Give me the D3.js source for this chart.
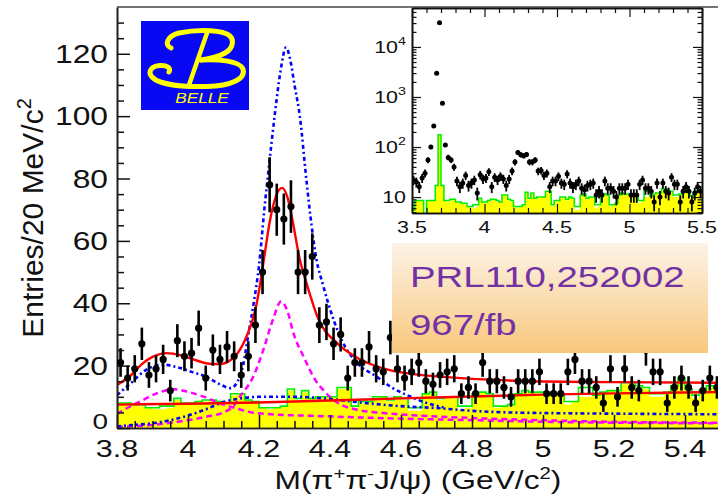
<!DOCTYPE html>
<html><head><meta charset="utf-8">
<script src="https://cdn.jsdelivr.net/npm/d3@7"></script>
<style>
body{margin:0;background:#fff;}
svg{display:block;}
text{font-family:"Liberation Sans",Arial,Helvetica,sans-serif;}
</style>
</head><body>
<svg id="c" width="718" height="500"></svg>
<script>
// ---------------- DATA ----------------
const mass = [3.81,3.83,3.85,3.87,3.89,3.91,3.93,3.95,3.97,3.99,4.01,4.03,4.05,4.07,4.09,4.11,4.13,4.15,4.17,4.19,
  4.21,4.23,4.25,4.27,4.29,4.31,4.33,4.35,4.37,4.39,4.41,4.43,4.45,4.47,4.49,4.51,4.53,4.55,4.57,4.59,
  4.61,4.63,4.65,4.67,4.69,4.71,4.73,4.75,4.77,4.79,4.81,4.83,4.85,4.87,4.89,4.91,4.93,4.95,4.97,4.99,
  5.01,5.03,5.05,5.07,5.09,5.11,5.13,5.15,5.17,5.19,5.21,5.23,5.25,5.27,5.29,5.31,5.33,5.35,5.37,5.39,
  5.41,5.43,5.45,5.47,5.49];
const counts = [21,16,19,27,17,19,22,12,28,23, 24,32,16,25,22,26,23,17,23,33,
  50,78,70,67,71,50,50,55,33,34, 27,30,16,21,21,26,19,18,29,19,
  16,18,21,15,14,17,18,19,11,13, 11,21,15,15,13,10,15,15,15,18,
  11,11,11,18,22,15,15,13,8,19, 10,19,13,12,25,18,18,8,13,16,
  13,8,12,16,13];
const greenHist = [8,8,7.5,7.5,6.5,6.5,7,7,9.5,8, 8,8.5,9,9,8.5,8,11,11,9,8.5,
  6.5,6.5,6.5,7,12.5,9.5,12,9.5,10,10, 10,13,13,7,8.5,8.5,10,10,9,10,
  9.5,6.5,6.5,11,11.5,9.5,10,10,7,7, 11,11.5,11,7,7,7.5,11,12,11.5,11.5,
  11.5,11,11,8.5,8.5,13,13,10.5,11.5,12, 12,14.5,14.5,13.5,13,11,11,11.5,13.5,16,
  12.5,10.5,12,13.5,13];
const yellowHist = [8,7.5,7.5,7,6.5,6,6,6.5,9,8, 7.5,8.5,8.5,9,8,8,10.5,11,9,8,
  6.5,6,6.5,7,12,9,11.5,9.5,9.5,10, 10,12.5,12.5,6.5,8,8.5,9.5,10,8.5,10,
  9,5.5,5.5,11,11,9,10,9.5,6,6.5, 10.5,11.5,10.5,6.5,7,7,11,11.5,11.5,11,
  11,11,10.5,7.5,8.5,10,10,10.5,11,12, 12,14,14.5,13,12.5,10,10,11,13,15.5,
  12,9.5,12,13,13];

// fit curves [mass, entries]
const redTotal = [[3.80,13.8],[3.84,17],[3.87,20.5],[3.90,22.8],[3.94,24],[3.98,23.3],[4.02,21.8],[4.06,20.6],
  [4.09,20.5],[4.12,21.8],[4.14,24],[4.165,29.4],[4.19,38],[4.20,44],[4.215,55],[4.23,66],[4.25,75],[4.265,77],
  [4.28,74],[4.292,68],[4.315,54],[4.335,46],[4.367,35],[4.42,27.2],[4.48,22.3],[4.56,18.8],[4.64,17.2],
  [4.72,16.4],[4.85,15.5],[5.0,14.9],[5.2,14.7],[5.5,14.5]];
const redBkg = [[3.80,7.5],[4.0,7.8],[4.2,8.2],[4.4,8.8],[4.6,9.5],[4.8,10.1],[5.0,10.7],[5.2,11.1],[5.4,11.4],[5.5,11.5]];
const blueTotal = [[3.80,10.5],[3.84,14.5],[3.88,18.5],[3.93,20.3],[3.97,19.5],[4.01,18],[4.05,16.5],[4.09,14],
  [4.12,12.8],[4.14,15],[4.155,20],[4.17,30],[4.185,40],[4.20,52],[4.215,70],[4.23,86],[4.245,101],[4.26,114],
  [4.276,122],[4.29,117],[4.30,110],[4.315,100],[4.334,79],[4.348,65],[4.362,54],[4.38,46],[4.395,40],
  [4.428,29.4],[4.475,21],[4.531,16.5],[4.577,12.8],[4.616,10.6],[4.66,8.5],[4.72,6.6]];
const blueBkg = [[3.80,0.5],[3.85,1],[3.90,1.5],[3.95,2.5],[4.00,4],[4.05,6],[4.10,8.3],[4.15,9.5],[4.20,10],
  [4.30,10],[4.40,9.3],[4.50,8],[4.60,7],[4.70,6.4],[4.80,5.5],[4.90,5],[5.00,4.8],[5.20,4.6],[5.50,4.4]];
const magPeak = [[3.80,0.3],[3.90,1],[4.00,2.5],[4.05,3.6],[4.10,5],[4.127,6.9],[4.146,10],[4.184,16.5],[4.212,25],
  [4.24,35],[4.262,40.6],[4.28,37.5],[4.297,30.4],[4.325,23],[4.362,14.8],[4.38,12.3],[4.41,9],[4.44,7],
  [4.47,6],[4.55,4.8],[4.65,4],[4.8,3.2],[5.0,2.5],[5.2,2],[5.5,1.7]];
const magBump = [[3.80,4.5],[3.83,6.5],[3.87,8.8],[3.91,11],[3.96,12.4],[4.00,11.6],[4.05,9.8],[4.10,7.5],
  [4.13,6.5],[4.18,5],[4.25,4.3],[4.35,3.9],[4.48,3.4],[4.6,3],[4.8,2.5],[5.0,2],[5.2,1.7],[5.5,1.5]];

// inset: extra bins below 3.8 (the rest reuses the main arrays)
const insetLowMass = [3.51,3.53,3.55,3.57,3.59,3.61,3.63,3.65,3.67,3.69,3.71,3.73,3.75,3.77,3.79];
const insetLowCounts = [22,20,16,24,30,55,100,263,2970,30600,750,110,62,55,40];
const insetLowGreen = [5.5,8.5,8.5,8.5,3,8.5,8.5,8.5,17,175,17,8.5,8.5,9,9];
const insetLowYellow = [5.5,8.5,8.5,8.5,3,8.5,8.5,8.5,17,175,17,8.5,8,8.5,9];

// ticks
const yTickValues = [0,20,40,60,80,100,120];
const yTickLabels = ["0","20","40","60","80","100","120"];
const xTickValues = [3.8,4.0,4.2,4.4,4.6,4.8,5.0,5.2,5.4];
const xTickLabels = ["3.8","4","4.2","4.4","4.6","4.8","5","5.2","5.4"];
const insetXTicks = [3.5,4.0,4.5,5.0,5.5];
const insetXLabels = ["3.5","4","4.5","5","5.5"];
const insetYTicks = [10,100,1000,10000];
const insetYExp = ["","2","3","4"];

// ---------------- DRAW ----------------
const svg = d3.select("#c");
const defs = svg.append("defs");
const SX = 1.27;

const x = d3.scaleLinear().domain([3.8,5.5]).range([117,720.5]);
const y = d3.scaleLinear().domain([0,135]).range([428,7]);

defs.append("clipPath").attr("id","mainClip").append("rect")
  .attr("x",x.range()[0]).attr("y",y.range()[1]).attr("width",718-x.range()[0]).attr("height",y.range()[0]-y.range()[1]);

const g = svg.append("g").attr("clip-path","url(#mainClip)");

function stepPts(ms, vs){
  const p = ms.map((m,i)=>[m-0.01, vs[i]]);
  p.push([ms[ms.length-1]+0.01, vs[vs.length-1]]);
  return p;
}
const mainArea = d3.area().x(d=>x(d[0])).y0(y(0)).y1(d=>y(d[1])).curve(d3.curveStepAfter);
const mainStep = d3.line().x(d=>x(d[0])).y(d=>y(d[1])).curve(d3.curveStepAfter);
g.append("path").attr("d",mainArea(stepPts(mass,yellowHist))).attr("fill","#ffff00");
g.append("path").attr("d",mainStep(stepPts(mass,greenHist))).attr("fill","none").attr("stroke","#00ee00").attr("stroke-width",1.6);

const curve = d3.line().x(d=>x(d[0])).y(d=>y(d[1])).curve(d3.curveMonotoneX);
function drawCurve(data,color,dash,w){
  g.append("path").attr("d",curve(data)).attr("fill","none").attr("stroke",color)
   .attr("stroke-width",w).attr("stroke-dasharray",dash);
}
drawCurve(magBump,"#ff00ff","6,4",2.5);
drawCurve(magPeak,"#ff00ff","6,4",2.5);
drawCurve(blueBkg,"#0000ff","4,3,2,3",2.6);
drawCurve(blueTotal,"#0000ff","4,3,2,3",2.6);
drawCurve(redBkg,"#ff0000",null,2.4);
drawCurve(redTotal,"#ff0000",null,2.4);

// axes (ticks inward)
const axG = svg.append("g");
function styleAxis(sel){ sel.selectAll("path").attr("stroke","#222").attr("stroke-width",1.6);
  sel.selectAll("line").attr("stroke","#111").attr("stroke-width",1.5); sel.selectAll("text").remove(); }
axG.append("g").attr("transform",`translate(0,${y(0)})`)
  .call(d3.axisBottom(x).tickValues(d3.range(3.85,5.5,0.05).filter(v=>Math.abs((v-3.8)/0.2-Math.round((v-3.8)/0.2))>0.01)).tickSizeInner(-7).tickSizeOuter(0).tickFormat(""))
  .call(styleAxis);
axG.append("g").attr("transform",`translate(0,${y(0)})`)
  .call(d3.axisBottom(x).tickValues(xTickValues).tickSizeInner(-13).tickSizeOuter(0).tickFormat(""))
  .call(styleAxis);
axG.append("g").attr("transform",`translate(${x(3.8)},0)`)
  .call(d3.axisLeft(y).tickValues(d3.range(5,135,5).filter(v=>v%20!==0)).tickSizeInner(-7).tickSizeOuter(0).tickFormat(""))
  .call(styleAxis);
axG.append("g").attr("transform",`translate(${x(3.8)},0)`)
  .call(d3.axisLeft(y).tickValues(yTickValues).tickSizeInner(-13).tickSizeOuter(0).tickFormat(""))
  .call(styleAxis);
axG.append("line").attr("x1",x(3.8)).attr("x2",718).attr("y1",y.range()[1]).attr("y2",y.range()[1])
  .attr("stroke","#444").attr("stroke-width",1.6);

// data points
const pts = svg.append("g").attr("clip-path","url(#mainClip)");
mass.forEach((m,i)=>{
  const v = counts[i], e = Math.sqrt(v);
  pts.append("line").attr("x1",x(m)).attr("x2",x(m)).attr("y1",y(v-e)).attr("y2",y(v+e))
    .attr("stroke","#000").attr("stroke-width",2.6);
  pts.append("circle").attr("cx",x(m)).attr("cy",y(v)).attr("r",3.6).attr("fill","#000");
});

function stext(parent, tx, ty, str, size, anchor, sx, color){
  return parent.append("text").attr("transform",`translate(${tx},${ty}) scale(${sx},1)`)
    .attr("text-anchor",anchor).attr("font-size",size).attr("fill",color||"#111").text(str);
}
// tick labels
yTickValues.forEach((v,i)=>stext(svg,108,v===0?y(v)+1:y(v)+9,yTickLabels[i],v===0?22:25,"end",SX));
xTickValues.forEach((v,i)=>stext(svg,x(v),457,xTickLabels[i],24,"middle",SX));

// axis titles
const xt = svg.append("text").attr("transform",`translate(418,489) scale(${SX},1)`)
  .attr("text-anchor","middle").attr("font-size",25).attr("fill","#111");
xt.append("tspan").text("M(π");
xt.append("tspan").attr("font-size",16).attr("dy",-10).text("+");
xt.append("tspan").attr("dy",10).text("π");
xt.append("tspan").attr("font-size",16).attr("dy",-10).text("-");
xt.append("tspan").attr("dy",10).text("J/ψ) (GeV/c");
xt.append("tspan").attr("font-size",16).attr("dy",-10).text("2");
xt.append("tspan").attr("dy",10).text(")");

const yt = svg.append("text").attr("transform","translate(43,218) rotate(-90)")
  .attr("text-anchor","middle").attr("font-size",30).attr("fill","#111");
yt.append("tspan").text("Entries/20 MeV/c");
yt.append("tspan").attr("font-size",20).attr("dy",-12).text("2");

// text box
const grad = defs.append("linearGradient").attr("id","boxg").attr("x1",0).attr("y1",0).attr("x2",0).attr("y2",1);
grad.append("stop").attr("offset","0%").attr("stop-color","#fdf3e7");
grad.append("stop").attr("offset","100%").attr("stop-color","#f8c77c");
svg.append("rect").attr("x",392).attr("y",243).attr("width",316).attr("height",110).attr("fill","url(#boxg)");
stext(svg,410,287,"PRL110,252002",30,"start",1.28,"#7332a3");
stext(svg,410,335,"967/fb",30,"start",1.28,"#7332a3");

// ---------------- INSET ----------------
const xi = d3.scaleLinear().domain([3.5,5.5]).range([412,702]);
const yi = d3.scaleLog().domain([4.8,60000]).range([213,8]);
const ig = svg.append("g");
ig.append("rect").attr("x",xi.range()[0]).attr("y",yi.range()[1]).attr("width",xi.range()[1]-xi.range()[0])
  .attr("height",yi.range()[0]-yi.range()[1]).attr("fill","#fff");
defs.append("clipPath").attr("id","insetClip").append("rect").attr("x",xi.range()[0]).attr("y",yi.range()[1])
  .attr("width",xi.range()[1]-xi.range()[0]).attr("height",yi.range()[0]-yi.range()[1]);
const igc = ig.append("g").attr("clip-path","url(#insetClip)");
const iMass = insetLowMass.concat(mass);
const iCounts = insetLowCounts.concat(counts);
const iGreen = insetLowGreen.concat(greenHist);
const iYellow = insetLowYellow.concat(yellowHist);
const iArea = d3.area().x(d=>xi(d[0])).y0(yi.range()[0]+5).y1(d=>yi(Math.max(d[1],1))).curve(d3.curveStepAfter);
const iStep = d3.line().x(d=>xi(d[0])).y(d=>yi(Math.max(d[1],1))).curve(d3.curveStepAfter);
igc.append("path").attr("d",iArea(stepPts(iMass,iYellow))).attr("fill","#ffff00");
igc.append("path").attr("d",iStep(stepPts(iMass,iGreen))).attr("fill","none").attr("stroke","#00ee00").attr("stroke-width",1.5);
iMass.forEach((m,i)=>{
  const v=iCounts[i], e=Math.sqrt(v);
  igc.append("line").attr("x1",xi(m)).attr("x2",xi(m)).attr("y1",yi(Math.max(v-e,1))).attr("y2",yi(v+e))
    .attr("stroke","#000").attr("stroke-width",1.8);
  igc.append("circle").attr("cx",xi(m)).attr("cy",yi(v)).attr("r",2.5).attr("fill","#000");
});
function styleInset(sel){ sel.selectAll("path").attr("stroke","#111").attr("stroke-width",1.6);
  sel.selectAll("line").attr("stroke","#111").attr("stroke-width",1.2); sel.selectAll("text").remove(); }
const iMinorX = d3.range(3.6,5.45,0.1).filter(v=>Math.abs(v*2-Math.round(v*2))>0.01);
const iMinorY = [];
[1,10,100,1000,10000].forEach(b=>[2,3,4,5,6,7,8,9].forEach(k=>{const v=b*k; if(v>=4.8&&v<=60000) iMinorY.push(v);}));
[[d3.axisBottom, yi.range()[0]],[d3.axisTop, yi.range()[1]]].forEach(([ax,pos])=>{
  ig.append("g").attr("transform",`translate(0,${pos})`).call(ax(xi).tickValues(insetXTicks).tickSizeInner(-9).tickSizeOuter(0).tickFormat("")).call(styleInset);
  ig.append("g").attr("transform",`translate(0,${pos})`).call(ax(xi).tickValues(iMinorX).tickSizeInner(-5).tickSizeOuter(0).tickFormat("")).call(styleInset);
});
[[d3.axisLeft, xi.range()[0]],[d3.axisRight, xi.range()[1]]].forEach(([ax,pos])=>{
  ig.append("g").attr("transform",`translate(${pos},0)`).call(ax(yi).tickValues(insetYTicks).tickSizeInner(-9).tickSizeOuter(0).tickFormat("")).call(styleInset);
  ig.append("g").attr("transform",`translate(${pos},0)`).call(ax(yi).tickValues(iMinorY).tickSizeInner(-4.5).tickSizeOuter(0).tickFormat("")).call(styleInset);
});
insetXTicks.forEach((v,i)=>stext(ig,xi(v),233,insetXLabels[i],16.5,"middle",1.3));
insetYTicks.forEach((v,i)=>{
  const t = ig.append("text").attr("transform",`translate(406,${yi(v)+6}) scale(1.3,1)`)
    .attr("text-anchor","end").attr("font-size",16.5).attr("fill","#111");
  t.append("tspan").text("10");
  if(insetYExp[i]) t.append("tspan").attr("font-size",11).attr("dy",-8).text(insetYExp[i]);
});

// ---------------- LOGO ----------------
const lg = svg.append("g").attr("transform","translate(141,21)");
lg.append("rect").attr("width",108).attr("height",89).attr("fill","#0808f4");
const ys = "#ffff00";
lg.append("path").attr("d","M30,27 C23,24 26,15 38,12 C52,9 74,8 86,13 C94,17 93,27 84,32 C77,36 68,38 60,39")
  .attr("fill","none").attr("stroke",ys).attr("stroke-width",5).attr("stroke-linecap","round");
lg.append("path").attr("d","M60,39 C78,38 99,40 102,48 C105,58 90,65 66,65.5 C44,66 18,64 11,56 C6,50 11,45 19,44.5 C26,44 30,47 28,51")
  .attr("fill","none").attr("stroke",ys).attr("stroke-width",5).attr("stroke-linecap","round");
lg.append("path").attr("d","M66,12 L48,64").attr("fill","none").attr("stroke",ys).attr("stroke-width",4.5).attr("stroke-linecap","round");
lg.append("text").attr("transform","translate(61,82) scale(1.15,1)").attr("text-anchor","middle")
  .attr("font-size",15).attr("font-style","italic").attr("fill",ys).text("BELLE");
</script>
</body></html>
